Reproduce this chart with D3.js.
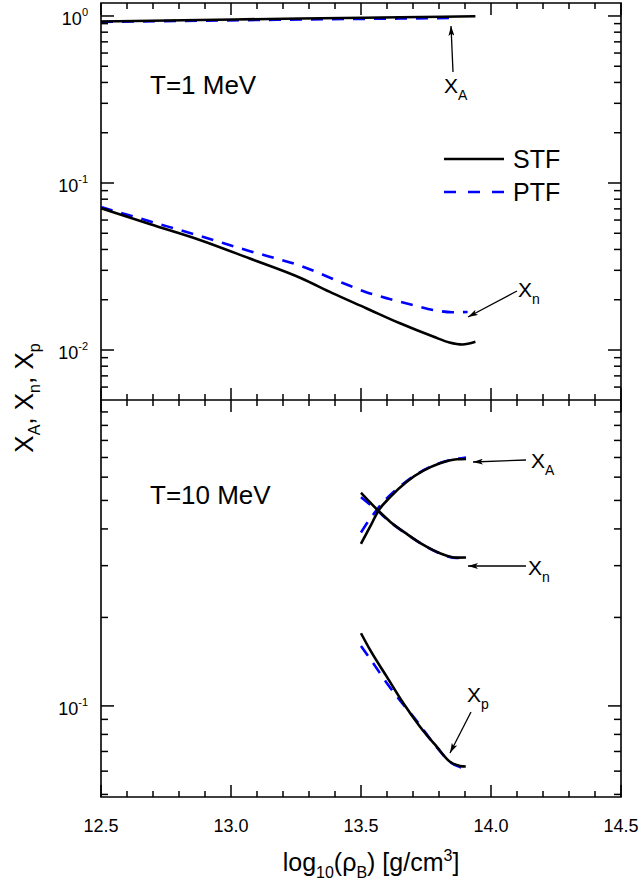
<!DOCTYPE html>
<html><head><meta charset="utf-8">
<script src="https://cdn.jsdelivr.net/npm/d3@7"></script>
<style>body{margin:0;background:#fff}svg{display:block}text{font-family:"Liberation Sans",Arial,sans-serif;fill:#000}</style>
</head><body>
<script>
// ---------- data ----------
const xMajorTicks = [12.5, 13.0, 13.5, 14.0, 14.5];
const xTickLabels = ["12.5", "13.0", "13.5", "14.0", "14.5"];
const yTopMajor = [1, 0.1, 0.01];
const yTopLabels = ["0", "-1", "-2"];
const yBotMajor = [0.1];
const yBotLabels = ["-1"];

// T = 1 MeV
const t1_STF_XA_rho = [12.5, 12.88, 13.27, 13.65, 13.94];
const t1_STF_XA     = [0.927, 0.946, 0.966, 0.982, 0.996];
const t1_PTF_XA_rho = [12.5, 12.88, 13.27, 13.65, 13.87];
const t1_PTF_XA     = [0.921, 0.937, 0.953, 0.965, 0.973];
const t1_STF_Xn_rho = [12.5, 12.69, 12.88, 13.07, 13.27, 13.39, 13.52, 13.65, 13.78, 13.84, 13.89, 13.94];
const t1_STF_Xn     = [0.0706, 0.0566, 0.0456, 0.0354, 0.0269, 0.0219, 0.0178, 0.01445, 0.0120, 0.0111, 0.0108, 0.0112];
const t1_PTF_Xn_rho = [12.5, 12.69, 12.88, 13.07, 13.27, 13.43, 13.52, 13.61, 13.70, 13.79, 13.85, 13.91];
const t1_PTF_Xn     = [0.0718, 0.0588, 0.0482, 0.0392, 0.0318, 0.0252, 0.0222, 0.0202, 0.0186, 0.01724, 0.01684, 0.01688];

// T = 10 MeV
const t10_STF_XA_rho = [13.5, 13.535, 13.567, 13.612, 13.676, 13.74, 13.804, 13.868, 13.904];
const t10_STF_XA     = [0.356, 0.407, 0.461, 0.513, 0.579, 0.631, 0.669, 0.690, 0.692];
const t10_PTF_XA_rho = [13.5, 13.535, 13.573, 13.676, 13.804, 13.904];
const t10_PTF_XA     = [0.389, 0.433, 0.479, 0.582, 0.671, 0.700];
const t10_STF_Xn_rho = [13.5, 13.567, 13.612, 13.676, 13.74, 13.804, 13.868, 13.904];
const t10_STF_Xn     = [0.531, 0.461, 0.4235, 0.3846, 0.3528, 0.3306, 0.3194, 0.3197];
const t10_PTF_Xn_rho = [13.5, 13.567, 13.612, 13.676, 13.74, 13.804, 13.868, 13.904];
const t10_PTF_Xn     = [0.513, 0.458, 0.4225, 0.3840, 0.3525, 0.3300, 0.3185, 0.3190];
const t10_STF_Xp_rho = [13.5, 13.535, 13.599, 13.663, 13.727, 13.791, 13.842, 13.881, 13.903];
const t10_STF_Xp     = [0.1767, 0.155, 0.1258, 0.1021, 0.0850, 0.0727, 0.0646, 0.0625, 0.0622];
const t10_PTF_Xp_rho = [13.5, 13.547, 13.599, 13.65, 13.701, 13.791, 13.842, 13.893];
const t10_PTF_Xp     = [0.160, 0.1397, 0.1197, 0.1044, 0.0920, 0.0724, 0.0645, 0.0614];

// ---------- layout ----------
const W = 641, H = 887;
const PL = 101, PR = 621, PT = 3, PM = 400, PB = 797;
const svg = d3.select("body").append("svg").attr("width", W).attr("height", H);

const xS = d3.scaleLinear().domain([12.5, 14.5]).range([PL, PR]);
const yTop = d3.scaleLog().domain([0.00502, 1.196]).range([PM, PT]);
const yBot = d3.scaleLog().domain([0.049, 1.098]).range([PB, PM]);

const xMinor = [];
for (let k = 126; k <= 144; k++) { if (k % 5 !== 0) xMinor.push(k / 10); }
function logMinors(scale, majors) {
  const dom = scale.domain(); const out = [];
  for (let e = -4; e <= 1; e++) for (let m = 1; m <= 9; m++) {
    const v = m * Math.pow(10, e);
    if (v > dom[0] * 1.01 && v < dom[1] * 0.99 && !majors.some(q => Math.abs(q - v) / v < 1e-6)) out.push(v);
  }
  return out;
}
const topMinor = logMinors(yTop, yTopMajor);
const botMinor = logMinors(yBot, yBotMajor);

// frame
const frame = d3.path();
frame.moveTo(PL, PT); frame.lineTo(PR, PT); frame.lineTo(PR, PB); frame.lineTo(PL, PB); frame.closePath();
frame.moveTo(PL, PM); frame.lineTo(PR, PM);
svg.append("path").attr("d", frame.toString()).attr("fill", "none")
  .attr("stroke", "#000").attr("stroke-width", 1.6);

// tick labels
function sciLabel(ys, vals, exps) {
  vals.forEach(function (v, i) {
    const t = svg.append("text").attr("x", 88).attr("y", ys(v) + 9)
      .attr("text-anchor", "end").attr("font-size", 18);
    t.append("tspan").text("10");
    t.append("tspan").attr("dy", -9).attr("font-size", 11).text(exps[i]);
  });
}
sciLabel(yTop, yTopMajor, yTopLabels);
sciLabel(yBot, yBotMajor, yBotLabels);
xMajorTicks.forEach(function (v, i) {
  svg.append("text").attr("x", xS(v)).attr("y", 832).attr("text-anchor", "middle")
    .attr("font-size", 18).text(xTickLabels[i]);
});

// axis titles
const xl = svg.append("text").attr("x", 371).attr("y", 871).attr("text-anchor", "middle").attr("font-size", 25);
xl.append("tspan").text("log");
xl.append("tspan").attr("dy", 7).attr("font-size", 16).text("10");
xl.append("tspan").attr("dy", -7).text("(ρ");
xl.append("tspan").attr("dy", 7).attr("font-size", 16).text("B");
xl.append("tspan").attr("dy", -7).text(") [g/cm");
xl.append("tspan").attr("dy", -10).attr("font-size", 16).text("3");
xl.append("tspan").attr("dy", 10).text("]");

const yl = svg.append("text").attr("transform", "translate(33,398) rotate(-90)")
  .attr("text-anchor", "middle").attr("font-size", 26);
yl.append("tspan").text("X");
yl.append("tspan").attr("dy", 7).attr("font-size", 16).text("A");
yl.append("tspan").attr("dy", -7).text(", X");
yl.append("tspan").attr("dy", 7).attr("font-size", 16).text("n");
yl.append("tspan").attr("dy", -7).text(", X");
yl.append("tspan").attr("dy", 7).attr("font-size", 16).text("p");

// curves
function curve(ys, xs, vs, type) {
  const line = d3.line().x(d => xS(d[0])).y(d => ys(d[1])).curve(d3.curveMonotoneX);
  const p = svg.append("path").datum(xs.map((v, i) => [v, vs[i]])).attr("d", line)
    .attr("fill", "none").attr("stroke-linecap", "butt");
  if (type === "PTF") p.attr("stroke", "#0000ff").attr("stroke-width", 2.6).attr("stroke-dasharray", "12,9");
  else p.attr("stroke", "#000").attr("stroke-width", 2.6);
}
curve(yTop, t1_PTF_XA_rho, t1_PTF_XA, "PTF");
curve(yTop, t1_STF_XA_rho, t1_STF_XA, "STF");
curve(yTop, t1_PTF_Xn_rho, t1_PTF_Xn, "PTF");
curve(yTop, t1_STF_Xn_rho, t1_STF_Xn, "STF");
curve(yBot, t10_PTF_XA_rho, t10_PTF_XA, "PTF");
curve(yBot, t10_PTF_Xn_rho, t10_PTF_Xn, "PTF");
curve(yBot, t10_PTF_Xp_rho, t10_PTF_Xp, "PTF");
curve(yBot, t10_STF_XA_rho, t10_STF_XA, "STF");
curve(yBot, t10_STF_Xn_rho, t10_STF_Xn, "STF");
curve(yBot, t10_STF_Xp_rho, t10_STF_Xp, "STF");

// panel titles
svg.append("text").attr("x", 150).attr("y", 94).attr("font-size", 26).text("T=1 MeV");
svg.append("text").attr("x", 150).attr("y", 504).attr("font-size", 26).text("T=10 MeV");

// legend
svg.append("line").attr("x1", 444).attr("x2", 504).attr("y1", 159).attr("y2", 159)
  .attr("stroke", "#000").attr("stroke-width", 2.6);
svg.append("text").attr("x", 513).attr("y", 168).attr("font-size", 25).text("STF");
svg.append("line").attr("x1", 444).attr("x2", 504).attr("y1", 192).attr("y2", 192)
  .attr("stroke", "#0000ff").attr("stroke-width", 2.6).attr("stroke-dasharray", "12,12");
svg.append("text").attr("x", 513).attr("y", 201).attr("font-size", 25).text("PTF");

// annotations
svg.append("defs").append("marker").attr("id", "ah").attr("viewBox", "0 0 10 6")
  .attr("refX", 10).attr("refY", 3).attr("markerWidth", 10).attr("markerHeight", 6)
  .attr("markerUnits", "userSpaceOnUse").attr("orient", "auto")
  .append("path").attr("d", "M0,0 L10,3 L0,6 L2.5,3 Z").attr("fill", "#000");
function arrow(x1, y1, x2, y2) {
  svg.append("line").attr("x1", x1).attr("y1", y1).attr("x2", x2).attr("y2", y2)
    .attr("stroke", "#000").attr("stroke-width", 1.3).attr("marker-end", "url(#ah)");
}
function subLabel(px, py, main, sub) {
  const t = svg.append("text").attr("x", px).attr("y", py).attr("font-size", 21);
  t.append("tspan").text(main);
  t.append("tspan").attr("dy", 7).attr("font-size", 14).text(sub);
}
arrow(453, 72, 451, 26); subLabel(444, 93, "X", "A");
arrow(517, 291, 468, 317); subLabel(518, 297, "X", "n");
arrow(526, 460, 473, 462); subLabel(531, 468, "X", "A");
arrow(526, 566, 468, 566); subLabel(528, 575, "X", "n");
arrow(471, 712, 450, 753); subLabel(467, 702, "X", "p");

// ticks, drawn last as individual elements with inline style
function tick(x1, y1, x2, y2) {
  svg.append("line").attr("x1", x1).attr("y1", y1).attr("x2", x2).attr("y2", y2)
    .attr("stroke", "black").attr("stroke-width", 1.5)
    .style("stroke", "black").style("stroke-width", "1.5px").style("visibility", "visible").style("opacity", 1);
}
const xTickRows = [[PT, 1], [PM, -1], [PM, 1], [PB, -1]];
xTickRows.forEach(function (row) {
  xMajorTicks.forEach(function (v) { tick(xS(v), row[0], xS(v), row[0] + 12 * row[1]); });
  xMinor.forEach(function (v) { tick(xS(v), row[0], xS(v), row[0] + 6 * row[1]); });
});
[[yTop, yTopMajor, topMinor], [yBot, yBotMajor, botMinor]].forEach(function (p) {
  const ys = p[0];
  p[1].forEach(function (v) { tick(PL, ys(v), PL + 13, ys(v)); tick(PR, ys(v), PR - 13, ys(v)); });
  p[2].forEach(function (v) { tick(PL, ys(v), PL + 7, ys(v)); tick(PR, ys(v), PR - 7, ys(v)); });
});
</script>
</body></html>
